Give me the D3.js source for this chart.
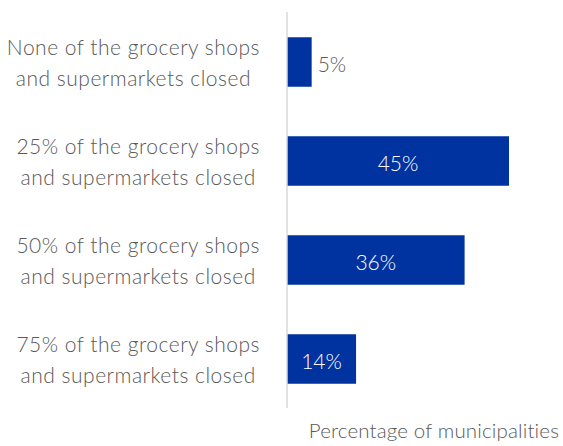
<!DOCTYPE html>
<html>
<head>
<meta charset="utf-8">
<script src="https://cdn.jsdelivr.net/npm/d3@7"></script>
<style>
  html, body { margin: 0; padding: 0; background: #fff; }
  svg { display: block; }
  text { font-family: Lato, "Open Sans", sans-serif; font-weight: 300; }
</style>
</head>
<body>
<svg id="chart" width="563" height="446"></svg>
<script>
const categories = [
  ["None of the grocery shops", "and supermarkets closed"],
  ["25% of the grocery shops", "and supermarkets closed"],
  ["50% of the grocery shops", "and supermarkets closed"],
  ["75% of the grocery shops", "and supermarkets closed"]
];
const values = [5, 45, 36, 14];
const valueLabels = ["5%", "45%", "36%", "14%"];
const axisTitle = "Percentage of municipalities";

const W = 563, H = 446;
const svg = d3.select("#chart");
const keys = categories.map((c, i) => i);

const x = d3.scaleLinear().domain([0, 45]).range([287, 509]);
const y = d3.scaleBand().domain(keys).range([12.5, 408.5]).paddingInner(0.5).paddingOuter(0.25);

const barColor = "#0033a0";
const textColor = "#595959";

// bars
svg.selectAll("rect.bar").data(values).join("rect")
  .attr("class", "bar")
  .attr("x", x(0))
  .attr("y", (d, i) => y(i))
  .attr("width", d => x(d) - x(0))
  .attr("height", y.bandwidth())
  .attr("fill", barColor);

// axis line
const yAxis = d3.axisLeft(y).tickSize(0).tickFormat("");
const ga = svg.append("g").attr("transform", `translate(${x(0)},0)`).call(yAxis);
ga.select(".domain").attr("stroke", "#d9d9d9").attr("stroke-width", 1.5)
  .attr("d", `M0,12V408`);

// value labels
svg.selectAll("text.val").data(values).join("text")
  .attr("class", "val")
  .attr("font-size", 21)
  .attr("dominant-baseline", "central")
  .attr("y", (d, i) => y(i) + y.bandwidth() / 2 + 1)
  .each(function(d, i) {
    const inside = x(d) - x(0) > 50;
    d3.select(this)
      .attr("x", inside ? (x(0) + x(d)) / 2 : x(d) + 6)
      .attr("text-anchor", inside ? "middle" : "start")
      .attr("fill", inside ? "#ffffff" : textColor)
      .text(valueLabels[i]);
  });

// category labels: block right-aligned, lines centered within block
const blockRight = 260;
keys.forEach(i => {
  const g = svg.append("g");
  const cy = y(i) + y.bandwidth() / 2;
  const lines = categories[i];
  const ts = lines.map((ln, j) => g.append("text")
    .attr("font-size", 21)
    .attr("letter-spacing", 0.5)
    .attr("fill", textColor)
    .attr("text-anchor", "middle")
    .attr("dominant-baseline", "central")
    .attr("y", cy + (j - (lines.length - 1) / 2) * 30.5)
    .text(ln));
  const maxW = d3.max(ts, t => t.node().getComputedTextLength());
  ts.forEach(t => t.attr("x", blockRight - maxW / 2));
});

// axis title
svg.append("text")
  .attr("font-size", 20.5)
  .attr("letter-spacing", 0.15)
  .attr("fill", textColor)
  .attr("text-anchor", "end")
  .attr("x", 559)
  .attr("y", 438)
  .text(axisTitle);
</script>
</body>
</html>
